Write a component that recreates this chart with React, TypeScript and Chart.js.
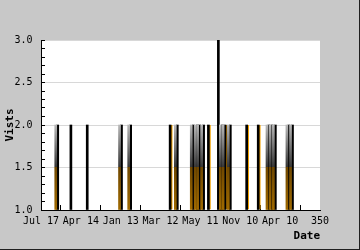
import React, { useEffect, useRef } from "react";
import Chart from "chart.js/auto";

// Visit counts (x in days along the axis, y = visits)
const visitX = [21, 37.5, 58, 101, 112.5, 162, 171, 191, 196, 199, 204, 210, 222.5, 227.5, 231, 237.5, 258, 272.5, 286, 290, 294, 311, 315.5];
const visitY = [2, 2, 2, 2, 2, 2, 2, 2, 2, 2, 2, 2, 3, 2, 2, 2, 2, 2, 2, 2, 2, 2, 2];

// shaded companion bars
const shadeX = [21, 101, 112.5, 171, 191, 196, 199, 204, 227.5, 231, 237.5, 286, 290, 294, 311, 315.5];
const shadeY = [2, 2, 2, 2, 2, 2, 2, 2, 2, 2, 2, 2, 2, 2, 2, 2];

// highlight bars
const accentX = [162, 196, 210, 231, 258, 272.5, 290];
const accentY = [2, 2, 2, 2, 2, 2, 2];

const xTickLabels = ["Jul 17", "Apr 14", "Jan 13", "Mar 12", "May 11", "Nov 10", "Apr 10", "350"];
const yTickLabels = ["1.0", "1.5", "2.0", "2.5", "3.0"];

const FONT = "'DejaVu Sans Mono', monospace";

export default function App() {
  const ref = useRef<HTMLCanvasElement | null>(null);

  useEffect(() => {
    if (!ref.current) return;
    const pts = (xs: number[], ys: number[]) => xs.map((x, i) => ({ x, y: ys[i] }));
    const shadeFill = (ctx: any) => {
      const chart = ctx.chart;
      const y = chart.scales?.y;
      if (!chart.chartArea || !y) return "#666";
      const top = y.getPixelForValue(2);
      const bot = y.getPixelForValue(1);
      const g = chart.ctx.createLinearGradient(0, top, 0, bot);
      g.addColorStop(0, "#b8b8b8");
      g.addColorStop(0.49, "#383838");
      g.addColorStop(0.5, "#704800");
      g.addColorStop(1, "#a06a00");
      return g;
    };
    const chart = new Chart(ref.current, {
      type: "bar",
      data: {
        datasets: [
          {
            label: "shade",
            data: pts(shadeX, shadeY),
            backgroundColor: shadeFill,
            barThickness: 2,
            base: 1,
          } as any,
          {
            label: "Visits",
            data: pts(visitX, visitY),
            backgroundColor: "#000",
            barThickness: 2,
            base: 1,
          } as any,
          {
            label: "accent",
            data: pts(accentX, accentY),
            backgroundColor: "rgba(0,0,0,0)",
            borderColor: "#f0a000",
            borderWidth: { left: 1, right: 0, top: 0, bottom: 0 },
            borderSkipped: false,
            barThickness: 2,
            base: 1,
          } as any,
        ],
      },
      options: {
        animation: false,
        responsive: false,
        events: [],
        layout: { padding: { left: 0, top: 40, right: 39, bottom: 0 } },
        plugins: { legend: { display: false }, tooltip: { enabled: false } },
        scales: {
          x: {
            type: "linear",
            min: 0,
            max: 350,
            offset: false,
            afterFit: (s: any) => { s.height = 39; },
            afterBuildTicks: (s: any) => {
              s.ticks = xTickLabels.map((_, i) => ({ value: i * 50 }));
            },
            ticks: {
              autoSkip: false,
              maxRotation: 0,
              padding: 10,
              color: "#000",
              font: { family: FONT, size: 10 },
              callback: (_v: any, i: number) => xTickLabels[i],
            },
            grid: { drawOnChartArea: false, tickLength: -5, tickColor: "#000", color: "#000" },
            border: { color: "#000", width: 1 },
            title: {
              display: true,
              text: "Date",
              align: "end",
              color: "#000",
              font: { family: FONT, size: 11, weight: "bold" },
              padding: { top: 0, bottom: 6.4 },
            },
          },
          y: {
            min: 1,
            max: 3,
            afterFit: (s: any) => { s.width = 41; },
            ticks: {
              stepSize: 0.1,
              autoSkip: false,
              padding: 12.5,
              color: "#000",
              font: { family: FONT, size: 10 },
              callback: (v: any) => {
                const k = Math.round((Number(v) - 1) * 2 * 1000) / 1000;
                return Number.isInteger(k) ? yTickLabels[k] : "";
              },
            },
            grid: {
              tickLength: -4,
              tickColor: "#000",
              color: (c: any) => {
                const v = c.tick?.value ?? 0;
                const k = Math.round(v * 2 * 1000) / 1000;
                return Number.isInteger(k) ? "#d8d8d8" : "rgba(0,0,0,0)";
              },
            },
            border: { color: "#000", width: 1 },
            title: {
              display: true,
              text: "Vists",
              color: "#000",
              font: { family: FONT, size: 11, weight: "bold" },
              padding: { top: 3.4, bottom: 0 },
            },
          },
        },
      } as any,
      plugins: [
        {
          id: "plotBg",
          beforeDraw: (c: any) => {
            const { ctx, chartArea: a } = c;
            ctx.save();
            ctx.fillStyle = "#fff";
            ctx.fillRect(a.left, a.top, a.right - a.left, a.bottom - a.top);
            ctx.restore();
          },
        },
      ],
    });
    return () => chart.destroy();
  }, []);

  return (
    <div
      style={{
        position: "fixed",
        left: 0,
        top: 0,
        width: 360,
        height: 250,
        boxSizing: "border-box",
        background: "#c8c8c8",
        borderRight: "1px solid #202020",
        borderBottom: "1px solid #202020",
      }}
    >
      <canvas ref={ref} width={359} height={249} style={{ display: "block" }} />
    </div>
  );
}
